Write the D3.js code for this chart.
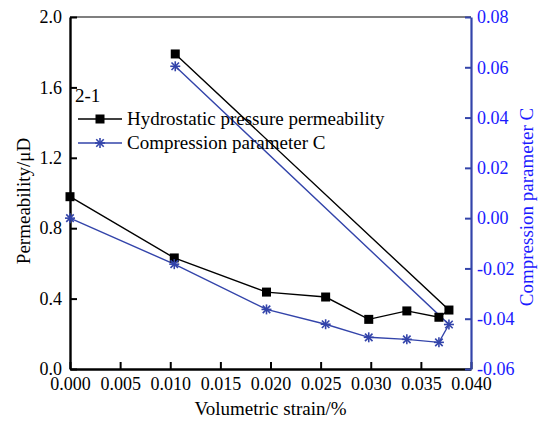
<!DOCTYPE html>
<html lang="en">
<head>
  <script src="https://d3js.org/d3.v7.min.js"></script>
  <style>
    body { margin: 0; background: #fff; }
    svg text { font-family: "Liberation Serif", "DejaVu Serif", "Times New Roman", serif; }
  </style>
</head>
<body>
<div id="chart"></div>
<script>
  // strain (%) in measurement order
  var strain = [0.0105, 0.0378, 0.0368, 0.0336, 0.0298, 0.0255, 0.0196, 0.0104, 0.0];
  var permeability = [1.79, 0.335, 0.294, 0.330, 0.282, 0.409, 0.437, 0.631, 0.979];
  var compression = [0.0604, -0.0423, -0.0494, -0.0482, -0.0474, -0.0422, -0.0363, -0.0183, 0.0];

  var xTicks = [0, 0.005, 0.010, 0.015, 0.020, 0.025, 0.030, 0.035, 0.040];
  var yTicks = [0, 0.4, 0.8, 1.2, 1.6, 2.0];
  var y2Ticks = [-0.06, -0.04, -0.02, 0, 0.02, 0.04, 0.06, 0.08];

  var W = 541, H = 423;
  var margin = {top: 17, right: 70, bottom: 54, left: 70};
  var width = W - margin.left - margin.right,
      height = H - margin.top - margin.bottom;

  var blue = "#3344aa", blueText = "#1a1aff";
  var serif = "Liberation Serif, DejaVu Serif, Times New Roman, serif";

  var svg = d3.select("#chart").append("svg")
      .attr("width", W).attr("height", H)
      .attr("font-family", serif)
      .append("g")
      .attr("transform", "translate(" + margin.left + "," + margin.top + ")");

  var x = d3.scaleLinear().domain([0, 0.04]).range([0, width]);
  var y = d3.scaleLinear().domain([0, 2.0]).range([height, 0]);
  var y2 = d3.scaleLinear().domain([-0.06, 0.08]).range([height, 0]);

  var data = strain.map(function(s, i) {
    return {s: s, k: permeability[i], c: compression[i]};
  });

  // top frame line
  svg.append("line")
      .attr("x1", 0).attr("x2", width).attr("y1", 0).attr("y2", 0)
      .attr("stroke", "#000").attr("stroke-width", 1.2);

  var gX = svg.append("g")
      .attr("transform", "translate(0," + height + ")")
      .call(d3.axisBottom(x).tickValues(xTicks).tickFormat(d3.format(".3f"))
          .tickSizeInner(-7).tickSizeOuter(0).tickPadding(8));
  var gY = svg.append("g")
      .call(d3.axisLeft(y).tickValues(yTicks).tickFormat(d3.format(".1f"))
          .tickSizeInner(-7).tickSizeOuter(0).tickPadding(8));
  var gY2 = svg.append("g")
      .attr("transform", "translate(" + width + ",0)")
      .call(d3.axisRight(y2).tickValues(y2Ticks).tickFormat(d3.format(".2f"))
          .tickSizeInner(-6).tickSizeOuter(0).tickPadding(6));

  [gX, gY, gY2].forEach(function(g) {
    g.attr("font-family", serif).attr("font-size", 18);
  });
  [gX, gY].forEach(function(g) {
    g.select(".domain").attr("stroke", "#000").attr("stroke-width", 2.4);
    g.selectAll(".tick line").attr("stroke", "#000").attr("stroke-width", 2);
    g.selectAll(".tick text").attr("fill", "#000");
  });
  gY2.select(".domain").attr("stroke", blue).attr("stroke-width", 2.2);
  gY2.selectAll(".tick line").attr("stroke", blue).attr("stroke-width", 2);
  gY2.selectAll(".tick text").attr("fill", blueText).attr("text-anchor", "start")
      .text(function(d) { return d3.format(".2f")(d).replace("\u2212", "-"); });

  // lines
  svg.append("path").datum(data)
      .attr("fill", "none").attr("stroke", "#000").attr("stroke-width", 1.4)
      .attr("d", d3.line().x(function(d) { return x(d.s); }).y(function(d) { return y(d.k); }));
  svg.append("path").datum(data)
      .attr("fill", "none").attr("stroke", blue).attr("stroke-width", 1.4)
      .attr("d", d3.line().x(function(d) { return x(d.s); }).y(function(d) { return y2(d.c); }));

  function star(g, cx, cy, r) {
    var a = g.append("g").attr("transform", "translate(" + cx + "," + cy + ")")
        .attr("stroke", blue).attr("stroke-width", 1.6);
    a.append("line").attr("x1", -r).attr("x2", r).attr("y1", 0).attr("y2", 0);
    a.append("line").attr("x1", 0).attr("x2", 0).attr("y1", -r).attr("y2", r);
    a.append("line").attr("x1", -r * 0.75).attr("x2", r * 0.75).attr("y1", -r * 0.75).attr("y2", r * 0.75);
    a.append("line").attr("x1", -r * 0.75).attr("x2", r * 0.75).attr("y1", r * 0.75).attr("y2", -r * 0.75);
  }

  svg.selectAll("rect.pt").data(data).enter().append("rect")
      .attr("class", "pt")
      .attr("x", function(d) { return x(d.s) - 4.5; })
      .attr("y", function(d) { return y(d.k) - 4.5; })
      .attr("width", 9).attr("height", 9).attr("fill", "#000");
  data.forEach(function(d) { star(svg, x(d.s), y2(d.c), 5); });

  // legend
  svg.append("text").attr("x", 5).attr("y", 85)
      .style("font-size", "19px").attr("fill", "#000").text("2-1");
  svg.append("line").attr("x1", 8).attr("x2", 52).attr("y1", 102).attr("y2", 102)
      .attr("stroke", "#000").attr("stroke-width", 1.4);
  svg.append("rect").attr("x", 25.5).attr("y", 97.5).attr("width", 9).attr("height", 9).attr("fill", "#000");
  svg.append("text").attr("x", 57).attr("y", 108)
      .style("font-size", "19px").attr("fill", "#000").text("Hydrostatic pressure permeability");
  svg.append("line").attr("x1", 8).attr("x2", 52).attr("y1", 126).attr("y2", 126)
      .attr("stroke", blue).attr("stroke-width", 1.4);
  star(svg, 30, 126, 5);
  svg.append("text").attr("x", 57).attr("y", 132)
      .style("font-size", "19px").attr("fill", "#000").text("Compression parameter C");

  // axis titles
  svg.append("text").attr("text-anchor", "middle")
      .attr("x", width / 2).attr("y", height + 46)
      .style("font-size", "19px").attr("fill", "#000").text("Volumetric strain/%");
  svg.append("text").attr("text-anchor", "middle")
      .attr("transform", "translate(" + (-40) + "," + 184 + ") rotate(-90)")
      .style("font-size", "19px").attr("fill", "#000").text("Permeability/μD");
  svg.append("text").attr("text-anchor", "middle")
      .attr("transform", "translate(" + (width + 62) + "," + 190 + ") rotate(-90)")
      .style("font-size", "19px").attr("fill", blueText).text("Compression parameter C");
</script>
</body>
</html>
